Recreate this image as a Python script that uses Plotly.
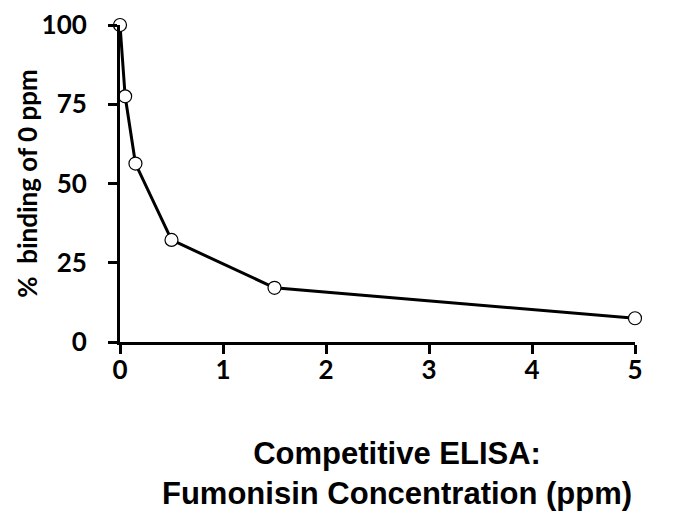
import plotly.graph_objects as go

concentration_ppm = [0, 0.05, 0.15, 0.5, 1.5, 5]
percent_binding = [100, 77.5, 56.3, 32.2, 17.1, 7.5]
x_ticks = [0, 1, 2, 3, 4, 5]
y_ticks = [0, 25, 50, 75, 100]

fig = go.Figure()
fig.add_trace(go.Scatter(
    x=concentration_ppm, y=percent_binding, mode="lines+markers",
    line=dict(color="black", width=3),
    marker=dict(symbol="circle", size=13, color="white", line=dict(color="black", width=1.2)),
    cliponaxis=False, showlegend=False,
))

tick_font = dict(family="Lato, Carlito, sans-serif", size=26, color="black", weight="bold")
fig.update_layout(
    width=675, height=526,
    margin=dict(l=120, r=40, t=25, b=184),
    plot_bgcolor="white", paper_bgcolor="white",
    xaxis=dict(range=[0, 5], tickvals=x_ticks, showgrid=False, zeroline=False,
               showline=True, linecolor="black", linewidth=3, automargin=False,
               ticks="outside", ticklen=9, tickwidth=3, tickcolor="black",
               tickfont=tick_font, ticklabelstandoff=-6),
    yaxis=dict(range=[0, 100], tickvals=y_ticks, showgrid=False, zeroline=False,
               showline=True, linecolor="black", linewidth=3, automargin=False,
               ticks="outside", ticklen=9, tickwidth=3, tickcolor="black",
               tickfont=tick_font, ticklabelstandoff=16),
)
fig.add_annotation(
    xref="paper", yref="paper", x=-0.182, y=0.50, xanchor="center", yanchor="middle",
    text="% \u00a0binding of 0 ppm", textangle=-90, showarrow=False,
    font=dict(family="Lato, Carlito, sans-serif", size=26, color="black", weight="bold"),
)
fig.add_annotation(
    xref="paper", yref="paper", x=0.538, y=-0.29, xanchor="center", yanchor="top",
    text="Competitive ELISA:<br>Fumonisin Concentration (ppm)", showarrow=False, align="center",
    font=dict(family="Liberation Sans, Arial, sans-serif", size=31, color="black", weight="bold"),
)
fig.write_html("out.html", config={"displayModeBar": False},
               post_script="document.body.style.margin='0';")
